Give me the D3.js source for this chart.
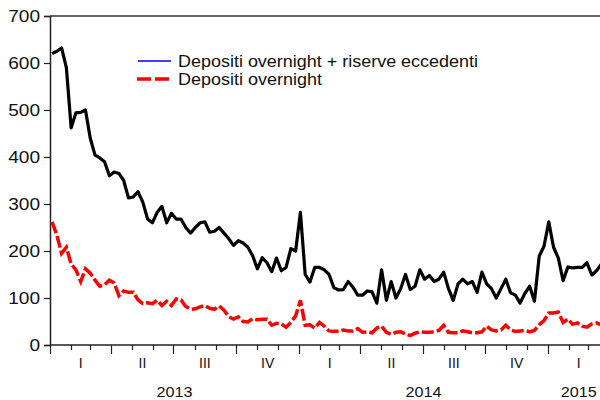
<!DOCTYPE html>
<html>
<head>
<meta charset="utf-8">
<script src="https://cdn.jsdelivr.net/npm/d3@7"></script>
<style>
  body { margin: 0; background: #fff; }
  svg text { font-family: "Liberation Sans", Arial, sans-serif; fill: #111; }
</style>
</head>
<body>
<svg id="chart" width="600" height="400"></svg>
<script>
// Weekly observations (billions of euro), first week ending 4 Jan 2013
var firstWeek = "2013-01-04";

// Depositi overnight + riserve eccedenti (black line)
var totale = [
  620, 625, 632, 590, 462, 494, 495, 500, 440, 404,
  398, 390, 360, 368, 365, 350, 313, 315, 326, 304,
  268, 260, 282, 295, 260, 280, 268, 268, 250, 238,
  250, 260, 262, 240, 242, 250, 238, 226, 212, 222,
  217, 208, 190, 162, 186, 175, 156, 185, 158, 165,
  205, 200, 282, 150, 134, 165, 165, 160, 150, 122,
  117, 118, 135, 123, 106, 106, 115, 113, 89, 160,
  95, 135, 100, 120, 150, 118, 125, 160, 140, 148,
  135, 140, 155, 120, 95, 130, 140, 130, 135, 112,
  155, 130, 120, 100, 120, 140, 111, 106, 89, 110,
  125, 93, 189, 210, 262, 208, 185, 137, 166, 164,
  165, 165, 175, 149, 158, 172, 175
];

// Depositi overnight (red dashed line)
var overnight = [
  262, 234, 195, 208, 172, 160, 135, 162, 153, 138,
  125, 128, 138, 132, 105, 115, 112, 112, 96, 88,
  90, 88, 95, 84, 93, 84, 98, 96, 82, 76,
  77, 81, 84, 78, 76, 83, 74, 60, 55, 60,
  50, 49, 56, 54, 55, 55, 42, 46, 45, 38,
  48, 62, 95, 42, 43, 36, 48, 40, 30, 29,
  29, 32, 30, 30, 35, 27, 28, 26, 36, 40,
  27, 23, 27, 28, 24, 20, 25, 28, 27, 27,
  28, 31, 42, 27, 26, 26, 30, 28, 26, 26,
  28, 40, 32, 30, 32, 42, 32, 29, 30, 31,
  28, 31, 43, 52, 68, 68, 70, 48, 55, 44,
  47, 40, 38, 45, 47, 43, 42
];

var yTicks = [0, 100, 200, 300, 400, 500, 600, 700];
var quarterNames = ["I", "II", "III", "IV"];
var seriesNames = ["Depositi overnight + riserve eccedenti", "Depositi overnight"];

var svg = d3.select("#chart");
var parse = d3.timeParse("%Y-%m-%d");
var start = parse("2013-01-01"), end = parse("2015-04-01");

var x = d3.scaleTime().domain([start, end]).range([50, 609.5]);
var y = d3.scaleLinear().domain([0, 700]).range([345, 16]);

var week0 = parse(firstWeek);
function toPoints(values) {
  return values.map(function(v, i) { return { date: d3.timeDay.offset(week0, 7 * i), value: v }; });
}

var line = d3.line()
  .x(function(d) { return x(d.date); })
  .y(function(d) { return y(d.value); });

// frame: top border
svg.append("line")
  .attr("x1", 50).attr("x2", 600).attr("y1", y(700)).attr("y2", y(700))
  .attr("stroke", "#333").attr("stroke-width", 1.5);

// y axis
var yAxis = svg.append("g")
  .attr("transform", "translate(50,0)")
  .call(d3.axisLeft(y).tickValues(yTicks).tickSize(6).tickPadding(4));
yAxis.select(".domain").attr("stroke", "#222").attr("stroke-width", 1.5);
yAxis.selectAll(".tick line").attr("stroke", "#222").attr("stroke-width", 1.2);
yAxis.selectAll("text")
  .style("font-size", "16px")
  .attr("fill", "#111")
  .attr("textLength", function(d) { return String(d).length * 10.6; })
  .attr("lengthAdjust", "spacingAndGlyphs");

// x axis: month ticks, longer at quarter starts
var months = d3.timeMonth.range(start, d3.timeDay.offset(end, 1));
svg.append("line")
  .attr("x1", 50).attr("x2", 600).attr("y1", 345).attr("y2", 345)
  .attr("stroke", "#222").attr("stroke-width", 1.5);
svg.append("g").selectAll("line")
  .data(months)
  .enter().append("line")
  .attr("x1", function(d) { return Math.round(x(d)) + 0.5; })
  .attr("x2", function(d) { return Math.round(x(d)) + 0.5; })
  .attr("y1", 345)
  .attr("y2", function(d) { return d.getMonth() % 3 === 0 ? 354 : 350; })
  .attr("stroke", "#222").attr("stroke-width", 1.2);

// quarter labels
var quarters = d3.timeMonth.every(3).range(start, end);
svg.append("g").selectAll("text")
  .data(quarters)
  .enter().append("text")
  .attr("x", function(d) { return (x(d) + x(d3.timeMonth.offset(d, 3))) / 2; })
  .attr("y", 368)
  .attr("text-anchor", "middle")
  .style("font-size", "14px")
  .text(function(d) { return quarterNames[Math.floor(d.getMonth() / 3)]; });

// year labels
var years = d3.timeYear.range(start, end);
svg.append("g").selectAll("text")
  .data(years)
  .enter().append("text")
  .attr("x", function(d) {
    var e = d3.timeYear.offset(d, 1);
    if (e > end) e = end;
    return (x(d) + x(e)) / 2;
  })
  .attr("y", 397)
  .attr("text-anchor", "middle")
  .style("font-size", "15px")
  .attr("textLength", 36)
  .attr("lengthAdjust", "spacingAndGlyphs")
  .text(function(d) { return d.getFullYear(); });

// series
svg.append("path")
  .datum(toPoints(overnight))
  .attr("d", line)
  .attr("fill", "none")
  .attr("stroke", "#ff0000")
  .attr("stroke-width", 3.5)
  .attr("stroke-dasharray", "12,3");

svg.append("path")
  .datum(toPoints(totale))
  .attr("d", line)
  .attr("fill", "none")
  .attr("stroke", "#000")
  .attr("stroke-width", 3.2)
  .attr("stroke-linejoin", "round");

// legend
var legendWidths = [300, 144];
var legend = svg.append("g");
legend.append("line")
  .attr("x1", 138).attr("x2", 171).attr("y1", 61).attr("y2", 61)
  .attr("stroke", "#0000ff").attr("stroke-width", 1.5);
legend.append("line")
  .attr("x1", 137).attr("x2", 170).attr("y1", 79).attr("y2", 79)
  .attr("stroke", "#ff0000").attr("stroke-width", 3.5)
  .attr("stroke-dasharray", "14,4");
legend.selectAll("text")
  .data(seriesNames)
  .enter().append("text")
  .attr("x", 178)
  .attr("y", function(d, i) { return 66.5 + i * 18; })
  .style("font-size", "16px")
  .attr("textLength", function(d, i) { return legendWidths[i]; })
  .attr("lengthAdjust", "spacingAndGlyphs")
  .text(function(d) { return d; });
</script>
</body>
</html>
